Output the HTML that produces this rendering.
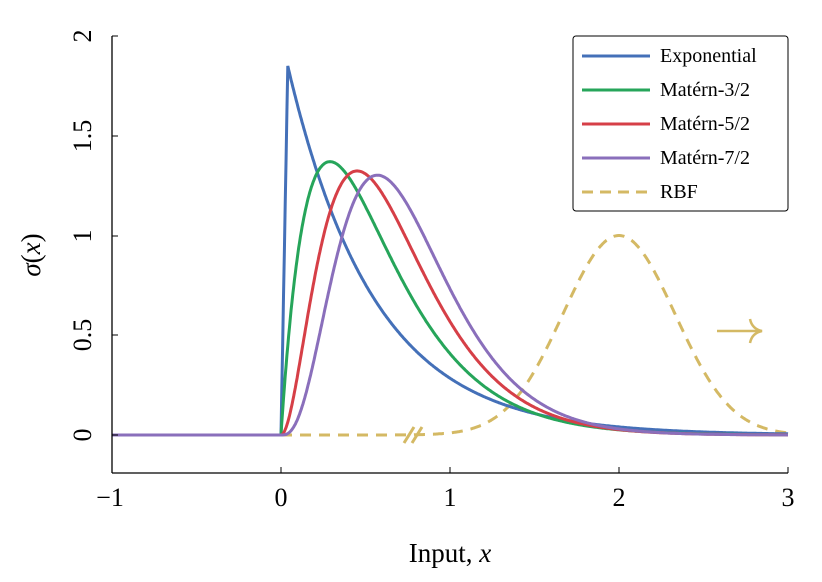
<!DOCTYPE html>
<html><head><meta charset="utf-8"><style>
body{margin:0;background:#fff;}
svg{display:block;font-family:"Liberation Serif",serif;}
</style></head><body>
<svg id="s" width="822" height="582" viewBox="0 0 822 582">
<g id="g"></g>
<line x1="112" y1="36" x2="112" y2="473" stroke="#000" stroke-width="1.3"/>
<line x1="112" y1="473" x2="788" y2="473" stroke="#000" stroke-width="1.3"/>
<g stroke="#000" stroke-width="1">
<line x1="112" y1="36" x2="118" y2="36"/><line x1="112" y1="136" x2="118" y2="136"/><line x1="112" y1="236" x2="118" y2="236"/><line x1="112" y1="335" x2="118" y2="335"/><line x1="112" y1="435" x2="118" y2="435"/>
<line x1="112" y1="473" x2="112" y2="467"/><line x1="281" y1="473" x2="281" y2="467"/><line x1="450" y1="473" x2="450" y2="467"/><line x1="619" y1="473" x2="619" y2="467"/><line x1="788" y1="473" x2="788" y2="467"/>
</g>
<g font-size="26" text-anchor="middle">
<text transform="translate(82,36) rotate(-90)" dy="9">2</text>
<text transform="translate(82,136) rotate(-90)" dy="9">1.5</text>
<text transform="translate(82,236) rotate(-90)" dy="9">1</text>
<text transform="translate(82,335) rotate(-90)" dy="9">0.5</text>
<text transform="translate(82,435) rotate(-90)" dy="9">0</text>
<text x="110" y="506">−1</text><text x="281" y="506">0</text><text x="450" y="506">1</text><text x="619" y="506">2</text><text x="788" y="506">3</text>
<text x="450" y="562" font-size="27">Input, <tspan font-style="italic">x</tspan></text>
<text transform="translate(40,255) rotate(-90)" font-size="27"><tspan font-style="italic">σ</tspan>(<tspan font-style="italic">x</tspan>)</text>
</g>
<rect x="573" y="36" width="215" height="175" fill="#fff" stroke="#000" stroke-width="1" rx="3"/>
<g stroke-width="3" fill="none">
<line x1="582" y1="56" x2="650" y2="56" stroke="#4470b8"/>
<line x1="582" y1="90" x2="650" y2="90" stroke="#26a55a"/>
<line x1="582" y1="124" x2="650" y2="124" stroke="#d63f47"/>
<line x1="582" y1="158" x2="650" y2="158" stroke="#8a6fbb"/>
<line x1="582" y1="192" x2="650" y2="192" stroke="#d4b964" stroke-dasharray="11,7"/>
</g>
<g font-size="20">
<text x="660" y="62">Exponential</text><text x="660" y="96">Matérn-3/2</text><text x="660" y="130">Matérn-5/2</text><text x="660" y="164">Matérn-7/2</text><text x="660" y="198">RBF</text>
</g>
</svg>
<script>
const X=x=>281+169*x, Y=y=>435-199.5*y;
const fs=[
['#d4b964',x=>Math.exp(-(x-2)*(x-2)/0.22),'11,8'],
['#4470b8',x=>x<0?0:(x<0.04?1.85*x/0.04:2.0*Math.exp(-1.95*x)),null],
['#26a55a',x=>x<0?0:12.85*x*Math.exp(-3.45*x),null],
['#d63f47',x=>x<0?0:48.2*x*x*Math.exp(-4.44*x),null],
['#8a6fbb',x=>x<0?0:141*x*x*x*Math.exp(-5.26*x),null]];
let h='';
for(const [c,f,d] of fs){
 let p='';
 for(let x=-1;x<=3.0001;x+=0.005){
  if(d&&x<0)continue;
  p+=(p?'L':'M')+X(x).toFixed(1)+','+Y(f(x)).toFixed(1);
 }
 h+=`<path d="${p}" fill="none" stroke="${c}" stroke-width="3" ${d?`stroke-dasharray="${d}"`:''}/>`;
}
h+=`<line x1="404" y1="443" x2="414" y2="427" stroke="#d4b964" stroke-width="3"/><line x1="412" y1="443" x2="422" y2="427" stroke="#d4b964" stroke-width="3"/>`;
h+=`<line x1="717" y1="331" x2="760" y2="331" stroke="#d4b964" stroke-width="2.5"/><path d="M750,319 Q752,329 762,331 Q752,333 750,343" fill="none" stroke="#d4b964" stroke-width="2.5"/>`;
document.getElementById('g').innerHTML=h;
</script>
</body></html>
